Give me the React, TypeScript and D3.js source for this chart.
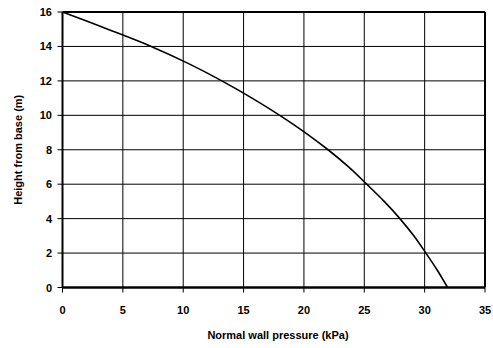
import React from "react";
import * as d3 from "d3";

// Height above the base (m) and the normal wall pressure at that height (kPa)
const heights = [16, 15, 14, 13, 12, 11, 10, 9, 8, 7, 6, 5, 4, 3, 2, 1, 0];
const pressures = [0, 3.75, 7.35, 10.45, 13.2, 15.7, 18.0, 20.1, 22.0, 23.7, 25.2, 26.65, 27.95, 29.1, 30.1, 31.05, 31.9];

const xTicks = [0, 5, 10, 15, 20, 25, 30, 35];
const yTicks = [0, 2, 4, 6, 8, 10, 12, 14, 16];

const xTitle = "Normal wall pressure (kPa)";
const yTitle = "Height from base (m)";

const W = 493;
const H = 348;
const left = 62.5;
const right = 485;
const top = 12;
const bottom = 287.5;

export default function App() {
  const x = d3.scaleLinear().domain([0, 35]).range([left, right]);
  const y = d3.scaleLinear().domain([0, 16]).range([bottom, top]);

  const pts: [number, number][] = heights.map((h, i) => [pressures[i], h]);
  const line = d3
    .line<[number, number]>()
    .x((d) => x(d[0]))
    .y((d) => y(d[1]))
    .curve(d3.curveCatmullRom.alpha(0.5));

  const font = "'Liberation Sans', Arial, sans-serif";

  return (
    <svg
      width={W}
      height={H}
      style={{ position: "absolute", left: 0, top: 0, background: "#fff" }}
      fontFamily={font}
    >
      {/* grid */}
      {xTicks.slice(1, -1).map((t) => (
        <line key={"gx" + t} x1={x(t)} x2={x(t)} y1={top} y2={bottom} stroke="#000" strokeWidth={1} />
      ))}
      {yTicks.slice(1, -1).map((t) => (
        <line key={"gy" + t} x1={left} x2={right} y1={y(t)} y2={y(t)} stroke="#000" strokeWidth={1} />
      ))}
      {/* frame */}
      <line x1={left} x2={right} y1={top} y2={top} stroke="#000" strokeWidth={2} />
      <line x1={right} x2={right} y1={top} y2={bottom} stroke="#000" strokeWidth={2} />
      <line x1={left} x2={left} y1={top} y2={bottom} stroke="#000" strokeWidth={2} />
      <line x1={left} x2={right} y1={bottom} y2={bottom} stroke="#000" strokeWidth={2.5} />

      {/* ticks and labels */}
      {xTicks.map((t) => (
        <g key={"xt" + t}>
          <line x1={x(t)} x2={x(t)} y1={bottom} y2={bottom + 5} stroke="#000" strokeWidth={1} />
          <text x={x(t)} y={314} textAnchor="middle" fontSize={11} fontWeight="bold" fill="#000">
            {t}
          </text>
        </g>
      ))}
      {yTicks.map((t) => (
        <g key={"yt" + t}>
          <line x1={left - 5} x2={left} y1={y(t)} y2={y(t)} stroke="#000" strokeWidth={1} />
          <text x={52} y={y(t) + 4} textAnchor="end" fontSize={11} fontWeight="bold" fill="#000">
            {t}
          </text>
        </g>
      ))}

      {/* pressure curve */}
      <path d={line(pts) ?? ""} fill="none" stroke="#000" strokeWidth={1.6} />

      {/* axis titles */}
      <text x={278} y={338.5} textAnchor="middle" fontSize={11} fontWeight="bold" fill="#000">
        {xTitle}
      </text>
      <text
        transform={`translate(22, ${(top + bottom) / 2}) rotate(-90)`}
        textAnchor="middle"
        fontSize={11}
        fontWeight="bold"
        fill="#000"
      >
        {yTitle}
      </text>
    </svg>
  );
}
